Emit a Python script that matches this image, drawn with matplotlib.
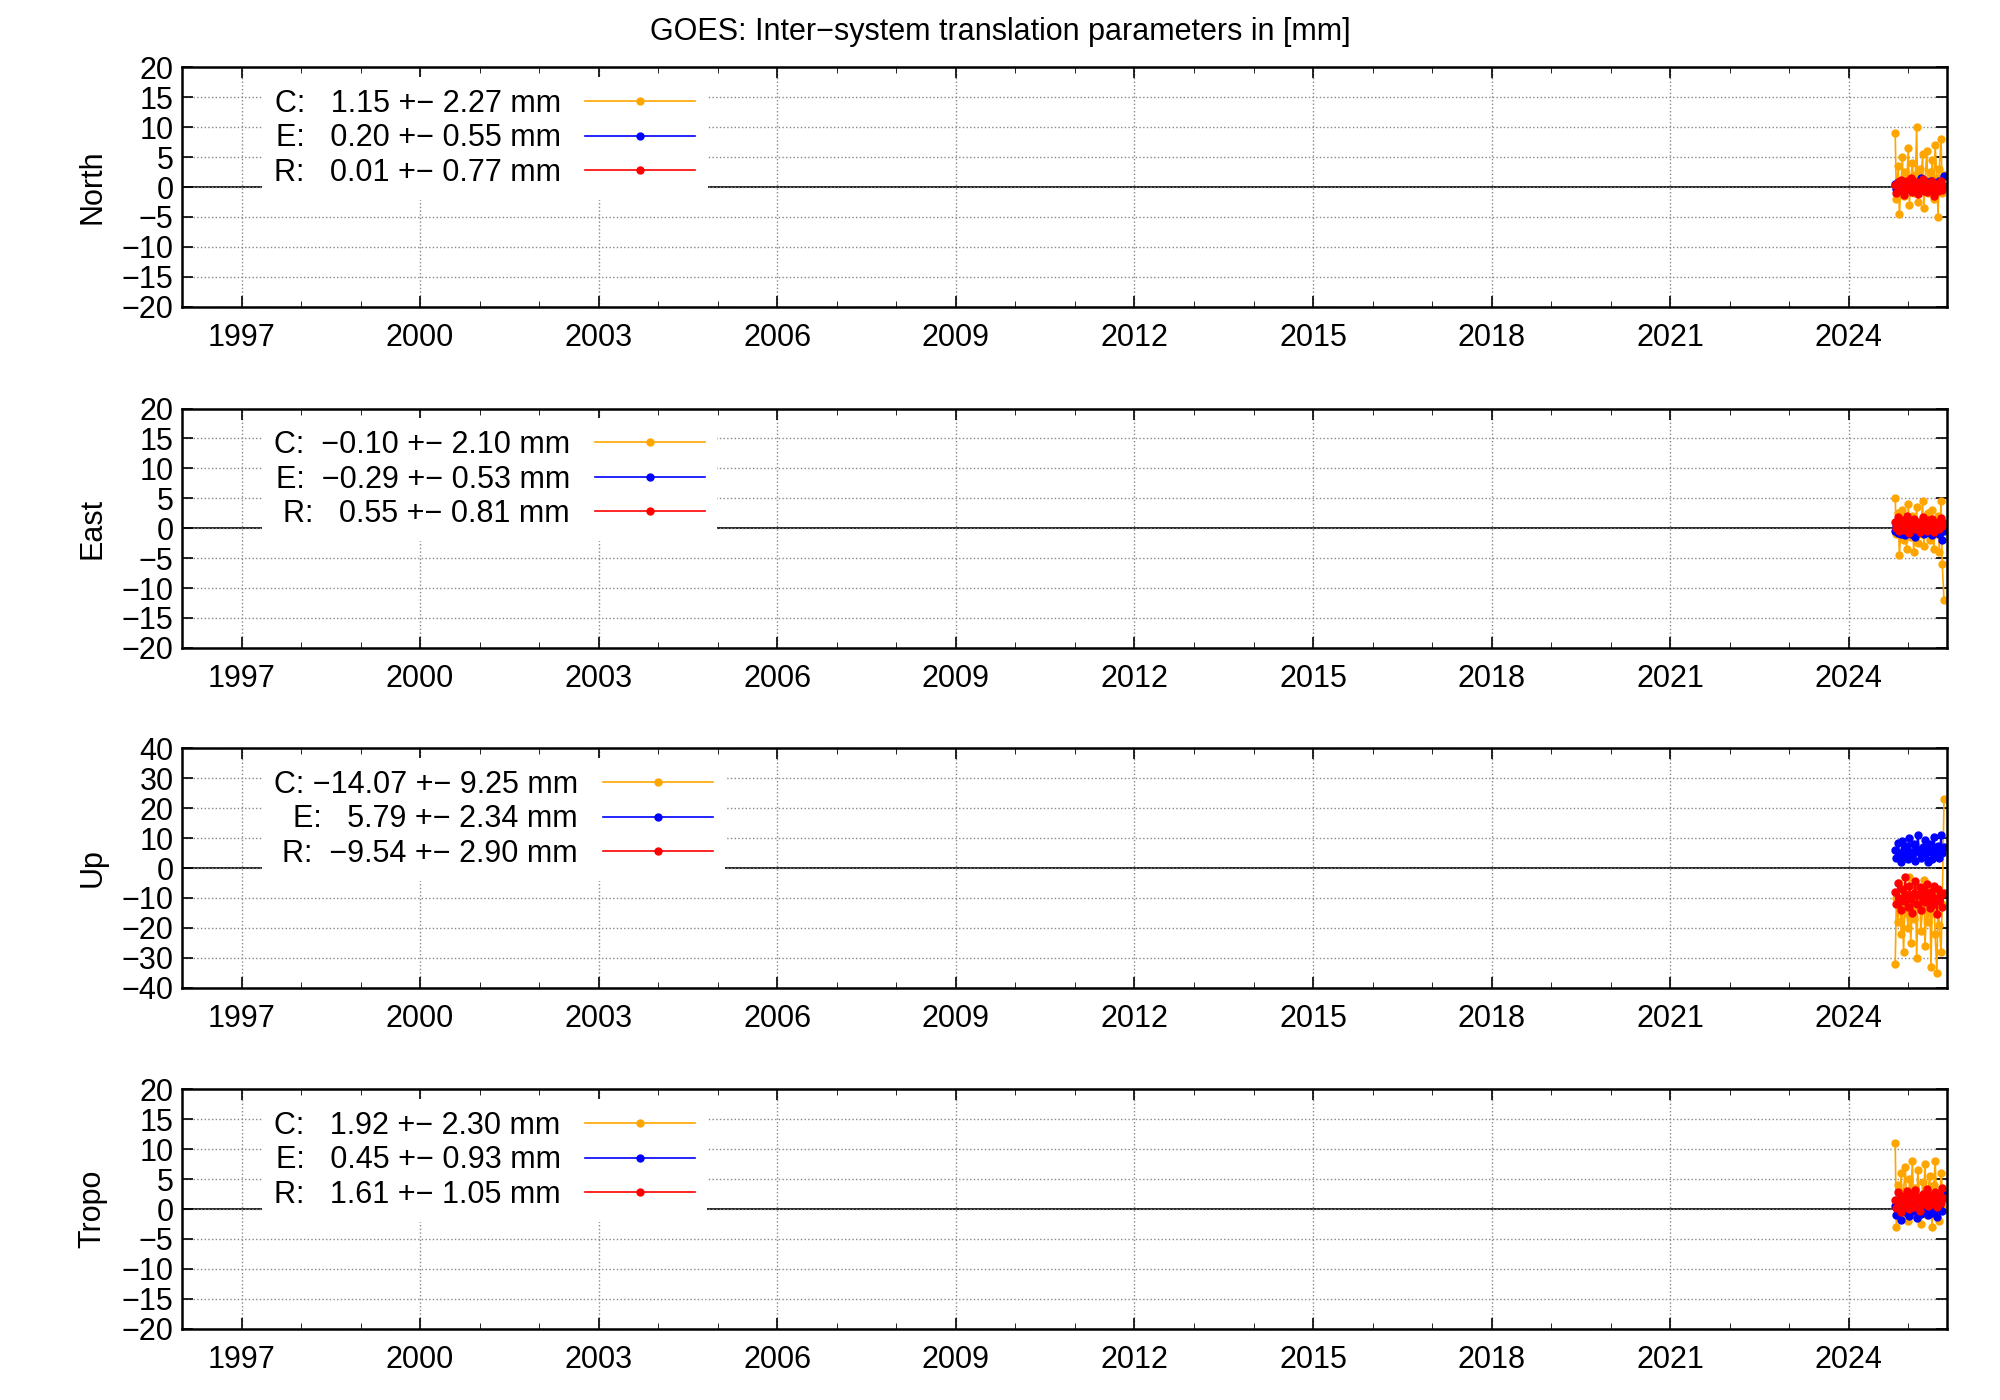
import matplotlib
matplotlib.use("Agg")
import matplotlib.pyplot as plt
import numpy as np

plt.rcParams["font.family"] = "Liberation Sans"

dates = [2024.78, 2024.80, 2024.83, 2024.85, 2024.88, 2024.90, 2024.92, 2024.95, 2024.97, 2025.00,
         2025.02, 2025.04, 2025.07, 2025.09, 2025.12, 2025.14, 2025.16, 2025.19, 2025.21, 2025.24,
         2025.26, 2025.28, 2025.31, 2025.33, 2025.36, 2025.38, 2025.40, 2025.43, 2025.45, 2025.48,
         2025.50, 2025.52, 2025.55, 2025.57, 2025.60]

north_C = [9.0, -2.0, 3.5, -4.5, 1.0, 5.0, -1.5, 2.5, 0.0, 6.5, -3.0, 1.5, 4.0, -1.0, 2.0, 10.0, -2.5, 3.0,
           0.5, 5.5, -3.5, 1.0, 6.0, -1.0, 2.5, 0.0, 4.5, -2.0, 7.0, 1.5, -5.0, 3.0, 8.0, -1.0, 2.0]
north_E = [0.5, -0.3, 0.8, 0.1, -0.5, 1.0, 0.2, -0.2, 0.6, 0.9, -0.4, 0.3, 1.2, 0.0, 0.4, -0.6, 0.7, 0.2,
           1.5, -0.3, 0.5, 0.1, 0.8, -0.2, 0.3, 1.0, -0.5, 0.6, 0.2, 0.4, -0.1, 1.1, 0.3, 0.0, 1.8]
north_R = [0.3, -1.0, 0.8, -0.5, 1.2, 0.0, -1.3, 0.6, 1.0, -0.4, 0.2, 1.5, -0.8, 0.5, -0.2, 0.9, -1.1, 0.4,
           0.0, 1.3, -0.6, 0.2, -0.9, 0.7, 0.1, -0.3, 1.0, -1.5, 0.4, 0.6, -0.7, 0.3, 1.1, -0.5, 0.2]

east_C = [5.0, -1.0, 2.5, -4.5, 0.5, 3.0, -2.0, 1.5, -3.5, 4.0, 0.0, -1.5, 2.0, -4.0, 1.0, 3.5, -2.5, 0.5,
          -1.0, 4.5, -3.0, 1.5, -0.5, 2.5, -2.0, 0.0, 3.0, -3.5, 1.0, -1.0, 2.0, -4.0, 4.5, -6.0, -12.0]
east_E = [-0.5, 0.3, -0.8, 0.1, -1.0, 0.2, -0.3, -1.2, 0.4, -0.6, 0.0, -0.9, 0.5, -0.4, -1.4, 0.1, -0.2, -0.7,
          0.6, -0.3, -1.0, 0.2, -0.5, 0.0, -0.8, 0.3, -1.1, -0.2, 0.4, -0.6, -0.1, -0.9, 0.2, -2.0, -0.4]
east_R = [1.0, 0.0, 1.8, -0.5, 0.6, 1.4, -0.3, 0.9, 2.0, 0.2, -0.8, 1.2, 0.5, 1.6, -0.2, 0.8, 1.0, -0.6,
          0.4, 1.9, 0.1, 0.7, -0.4, 1.3, 0.6, 0.0, 1.5, -0.7, 0.9, 0.3, 1.1, -0.2, 1.7, 0.4, 0.8]

up_C = [-32.0, -10.0, -18.0, -5.0, -22.0, -12.0, -28.0, -8.0, -15.0, -20.0, -3.0, -25.0, -11.0, -17.0, -6.0,
        -30.0, -13.0, -9.0, -21.0, -14.0, -4.0, -26.0, -12.0, -18.0, -7.0, -33.0, -15.0, -10.0, -22.0, -35.0,
        -8.0, -19.0, -28.0, -12.0, 23.0]
up_E = [6.0, 3.5, 8.5, 5.0, 2.0, 9.0, 6.5, 4.0, 7.5, 3.0, 10.0, 5.5, 4.5, 8.0, 2.5, 6.0, 11.0, 5.0,
        3.5, 7.0, 4.0, 9.5, 6.0, 2.0, 8.0, 5.5, 3.0, 10.5, 6.5, 4.5, 7.5, 3.5, 11.0, 5.0, 7.0]
up_R = [-8.0, -12.0, -5.0, -10.0, -14.0, -7.0, -11.0, -3.0, -9.0, -13.0, -6.0, -10.5, -15.0, -8.5, -4.5,
        -12.0, -9.0, -6.5, -14.0, -10.0, -7.5, -11.5, -5.5, -9.5, -13.5, -8.0, -12.5, -6.0, -10.0, -15.5,
        -7.0, -11.0, -9.0, -13.0, -8.5]

tropo_C = [11.0, -3.0, 4.0, 0.5, 6.0, -1.5, 3.0, 7.0, 1.0, -2.0, 5.0, 2.5, 8.0, -1.0, 3.5, 0.0, 6.5, 2.0,
           -2.5, 4.5, 1.5, 7.5, -1.0, 3.0, 5.5, 0.5, -3.0, 4.0, 8.0, 1.0, 2.5, -2.0, 6.0, 3.5, 0.0]
tropo_E = [0.5, -1.0, 1.5, 0.0, -1.8, 1.0, 0.3, -0.5, 2.0, 0.8, -1.2, 0.4, 1.6, -0.3, 0.9, -1.5, 0.2, 1.2,
           -0.8, 0.6, 2.2, -0.2, 0.7, -1.0, 1.3, 0.1, -0.6, 1.8, 0.4, -1.3, 0.9, 0.0, 1.5, -0.4, 2.5]
tropo_R = [1.5, 0.2, 2.8, 1.0, -0.5, 2.2, 1.6, 0.6, 3.0, 1.2, 0.0, 2.5, 1.8, 0.4, 3.2, 1.4, 2.0, -0.3,
           1.1, 2.6, 0.8, 1.9, 3.4, 0.5, 1.7, 2.3, 0.9, 1.3, 2.9, 0.3, 1.6, 2.4, 1.0, 3.6, 1.8]

panels = ["North", "East", "Up", "Tropo"]
series = [(north_C, north_E, north_R), (east_C, east_E, east_R), (up_C, up_E, up_R), (tropo_C, tropo_E, tropo_R)]
labels = [["C:   1.15 +\u2212 2.27 mm", "E:   0.20 +\u2212 0.55 mm", "R:   0.01 +\u2212 0.77 mm"],
          ["C:  \u22120.10 +\u2212 2.10 mm", "E:  \u22120.29 +\u2212 0.53 mm", "R:   0.55 +\u2212 0.81 mm"],
          ["C: \u221214.07 +\u2212 9.25 mm", "E:   5.79 +\u2212 2.34 mm", "R:  \u22129.54 +\u2212 2.90 mm"],
          ["C:   1.92 +\u2212 2.30 mm", "E:   0.45 +\u2212 0.93 mm", "R:   1.61 +\u2212 1.05 mm"]]
ylims = [20, 20, 40, 20]
ysteps = [5, 5, 10, 5]
xticks = [1997, 2000, 2003, 2006, 2009, 2012, 2015, 2018, 2021, 2024]
colors = ["#ffa500", "#0000ff", "#ff0000"]

fig = plt.figure(figsize=(20, 14), dpi=100)
fig.text(0.5, 0.977, "GOES: Inter\u2212system translation parameters in [mm]", ha="center", va="center", fontsize=22)
tops = [53, 321, 588, 856]
H = 1100.0
for i, name in enumerate(panels):
    top = 1 - tops[i] / H
    h = 188 / H
    ax = fig.add_axes([0.091, top - h, 0.9735 - 0.091, h])
    for vals, c, lab in zip(series[i], colors, labels[i]):
        ax.plot(dates, vals, "-o", color=c, lw=1.2, ms=5, label=lab)
    ax.axhline(0, color="black", lw=1.2, zorder=1)
    ax.set_xlim(1996.0, 2025.65)
    L = ylims[i]
    ax.set_ylim(-L, L)
    ax.set_yticks(np.arange(-L, L + 1, ysteps[i]))
    ax.set_yticklabels([str(v).replace("-", "\u2212") for v in np.arange(-L, L + 1, ysteps[i])])
    ax.set_xticks(xticks)
    ax.set_xticks(np.arange(1996, 2026, 1), minor=True)
    ax.grid(True, which="major", ls=":", color="#888888", lw=1)
    ax.tick_params(which="both", direction="in", labelsize=22, top=True, right=True)
    ax.tick_params(which="major", length=8, width=1.2)
    ax.tick_params(which="minor", length=4)
    ax.tick_params(axis="x", pad=12)
    ax.tick_params(axis="y", pad=6)
    for s in ax.spines.values():
        s.set_linewidth(1.8)
    ax.set_ylabel(name, fontsize=22, labelpad=10)
    leg = ax.legend(loc="upper left", bbox_to_anchor=(0.04, 1.0), markerfirst=False, frameon=True,
                    fontsize=22, handlelength=3.6, labelspacing=0.15, borderaxespad=0.3, handletextpad=0.8)
    leg.get_frame().set_edgecolor("white")
    leg.get_frame().set_alpha(1)
    leg.get_frame().set_linewidth(0)
    for t in leg.get_texts():
        t.set_ha("right")
fig.savefig("out.png", dpi=100)
